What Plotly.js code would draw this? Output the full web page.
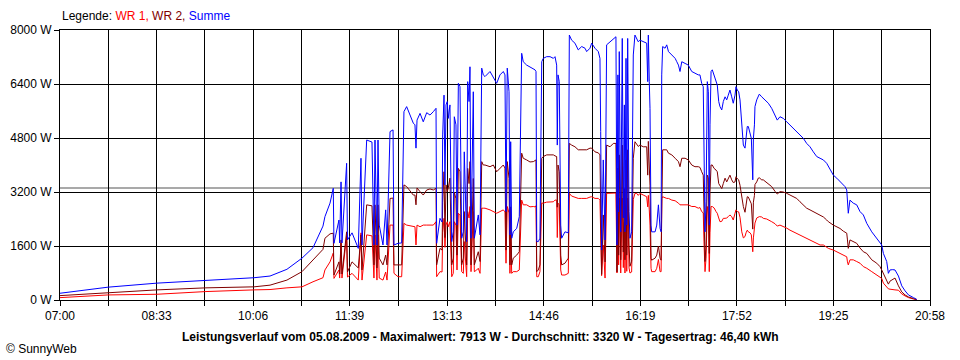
<!DOCTYPE html>
<html>
<head>
<meta charset="utf-8">
<script src="https://cdn.plot.ly/plotly-3.0.1.min.js"></script>
<style>
html,body{margin:0;padding:0;background:#fff;}
#chart{width:960px;height:360px;}
</style>
</head>
<body>
<div id="chart"></div>
<script>
// Minutes after 07:00
const minutes = [0,46.2,93.4,140.6,186.9,202.3,218.6,233.1,243.7,253.3,255.2,260.1,263.2,263.9,268.7,269.4,270.7,271.6,276.1,276.9,281.3,287.3,289.9,290.9,295.4,300.5,302.4,303.4,305.3,306.3,307.5,311.1,313.7,315.0,317.9,320.8,321.7,325.6,329.1,331.3,333.9,340.3,341.9,342.9,343.9,346.8,349.9,353.2,356.4,359.6,362.2,362.8,366.0,368.0,368.6,369.9,370.8,371.8,373.0,374.0,375.6,377.3,378.8,379.8,381.4,382.4,383.7,385.3,386.9,388.5,389.4,391.7,392.7,394.0,394.9,395.9,398.1,399.1,401.4,402.9,404.6,406.2,407.7,409.4,414.2,417.4,420.6,423.8,427.0,428.6,429.6,430.8,432.5,433.4,434.1,435.1,436.6,439.9,442.4,444.7,446.2,449.5,452.7,455.9,457.5,458.5,459.2,460.7,462.3,464.0,465.5,468.8,472.0,475.2,476.8,478.4,479.0,479.7,480.9,482.3,483.2,486.4,489.6,490.6,492.8,496.0,499.2,502.5,505.7,507.3,510.5,512.1,515.3,518.5,520.1,520.8,521.7,523.3,525.0,526.5,529.8,533.0,535.5,536.5,537.4,538.1,538.7,540.1,541.6,542.6,543.6,544.2,545.2,545.9,546.8,548.1,549.0,550.6,552.2,553.8,555.5,557.0,558.6,561.8,565.1,566.1,566.7,567.6,568.3,569.3,569.9,573.2,574.8,576.4,578.0,579.0,579.6,580.5,582.8,584.4,586.1,589.3,592.5,594.1,595.7,597.2,598.9,602.1,605.2,608.5,611.6,614.8,616.4,618.1,619.6,620.3,621.3,622.3,623.5,624.5,625.4,626.1,627.1,628.3,630.0,631.9,633.1,634.5,635.7,637.4,638.9,640.6,642.2,643.7,645.3,647.0,648.5,650.2,651.1,652.4,653.7,655.0,656.7,658.2,659.8,660.8,662.0,663.0,664.7,665.9,667.3,667.9,668.9,669.4,671.1,672.6,673.6,675.9,677.4,680.7,682.3,685.5,688.7,690.9,693.5,696.7,700.0,703.1,706.3,709.6,712.8,716.0,719.2,722.4,725.6,728.9,732.1,735.3,738.5,740.1,744.9,748.2,751.3,754.5,756.1,757.8,758.5,759.3,760.9,764.1,767.4,770.6,773.8,777.1,781.9,786.7,789.8,791.5,793.1,796.3,797.9,799.5,802.1,804.3,807.6,810.8,814.0,817.3,822.1,825.2];

const summe = [200,380,500,580,660,710,910,1240,1550,2190,2470,2870,3310,1680,2370,1690,3500,1690,4050,1780,1990,1530,4200,1630,4740,4680,1630,4740,1630,4740,2220,1630,2670,1630,4990,5040,1630,1680,1690,5580,5730,5240,5190,4500,5330,5530,5280,5550,5480,5580,5680,1680,2420,2310,4890,6070,3410,5780,5880,5380,5780,1730,2020,5430,5190,2220,6420,6320,1830,2020,4390,1730,6470,5880,6910,1830,6170,1830,2220,2520,1930,6870,6670,6620,6770,6570,6420,6670,6770,6670,2620,6870,6170,1930,4690,1830,2020,2120,2470,7310,7060,6960,6910,6870,6820,6770,1730,1730,1830,7060,7160,7210,7210,7160,7210,6960,4590,6670,6470,2220,1830,2020,1990,7850,7700,7610,7410,7510,7460,7360,7460,7610,7460,7360,7160,4990,1480,4150,1780,7560,7650,7750,7800,1630,6670,2610,7360,2020,7750,2430,5780,2020,7160,2220,7750,2620,1830,2020,7260,7850,7750,7650,7700,7650,7610,6470,7850,6470,5680,2220,2020,2020,2220,2820,2120,2020,6670,7510,7460,7560,7360,7260,7160,7060,6960,6770,7060,7010,6960,6770,6720,6670,6670,6420,6320,4390,2020,2910,6470,6170,2220,5190,6770,6820,6670,6470,6370,5880,5730,5630,5880,6020,5930,6070,6220,6020,5830,6070,6320,6220,6170,5930,5090,4590,4500,4890,5140,5140,4950,4790,3560,4790,5190,5730,5930,6070,6100,6020,5980,5880,5830,5680,5480,5330,5430,5380,5280,5190,5090,4990,4890,4790,4640,4540,4390,4250,4200,4150,4050,3950,3700,3610,3510,3410,3360,3260,2960,2570,2960,2870,2820,2620,2520,2270,2020,1830,1680,1630,1380,1140,790,890,900,890,710,420,270,150,70,20];

const wr2 = [130,220,300,360,390,440,590,840,1190,1500,1830,1960,1980,740,1130,770,1780,770,2020,830,1130,950,1930,890,2820,2790,1040,2820,950,2820,1240,1040,1330,1040,3010,3020,1040,1040,1040,3410,3360,3110,3110,2820,3320,3210,3110,3260,3290,3260,3310,1040,1530,1480,2900,3800,1850,3410,3210,3320,3610,1040,1240,3200,3000,1330,3900,3800,1040,1240,2620,1040,3900,3450,4100,1040,3600,1040,1330,1430,1140,4100,4000,4000,3950,4000,3800,3900,4000,3910,1480,4100,3600,1040,2760,1040,1240,1330,1430,4350,4200,4150,4090,4100,4150,4150,840,890,1040,4200,4250,4300,4300,4300,4270,4250,2750,4000,3800,1330,1040,1090,1240,4640,4590,4540,4450,4450,4450,4450,4500,4500,4390,4360,4300,2950,760,2520,1130,4590,4540,4640,4640,830,3910,1330,4300,1190,4590,1420,3300,1190,4150,1330,4450,1630,1000,1150,4200,4690,4600,4550,4590,4540,4540,3700,4700,3800,3400,1240,1180,1240,1330,1600,1240,1180,3650,4450,4450,4450,4350,4300,4200,4150,4100,3950,4200,4200,4150,4000,3950,3950,3930,3800,3700,2670,1140,1630,3700,3620,1380,3210,4000,4000,3900,3850,3800,3450,3400,3300,3450,3610,3500,3600,3700,3560,3480,3500,3650,3600,3560,3400,3010,2770,2600,2900,3060,3050,2950,2850,2100,2900,3100,3420,3500,3610,3620,3560,3560,3480,3440,3360,3220,3140,3210,3200,3160,3110,3060,3010,2910,2820,2720,2670,2620,2570,2520,2460,2370,2320,2220,2170,2120,2040,2020,1980,1780,1530,1780,1730,1680,1540,1430,1380,1190,1090,990,890,790,590,470,560,600,650,420,240,150,90,40,10];

const wr1 = [70,150,170,250,300,310,360,390,540,660,890,1130,1390,640,890,650,1690,650,1900,680,790,590,1990,590,1930,1900,650,1930,590,1930,650,590,830,590,2220,2220,790,690,690,2270,2220,2170,2170,1630,2220,2170,2220,2220,2220,2220,2320,690,840,830,2000,2420,1560,2220,2320,2170,2320,690,790,2320,2220,890,2570,2520,840,790,1730,690,2620,2430,2770,840,2620,840,890,940,790,2720,2720,2720,2670,2620,2570,2620,2670,2610,1090,2770,2580,790,1930,790,840,840,890,2960,2820,2820,2760,2770,2760,2790,690,690,840,2870,2870,2900,2910,2910,2960,2960,1850,2870,2820,890,740,740,790,3160,3080,3050,3010,3010,3010,3010,3050,3060,3010,3010,2960,2000,720,1630,650,3160,3160,3170,3170,800,2820,1040,3020,800,3020,960,2300,800,2820,850,3020,950,800,830,2980,3160,3160,3100,3160,3110,3060,2760,3100,2670,2220,940,840,840,940,1200,840,840,3010,3060,3020,3010,3010,2960,2940,2910,2870,2820,2820,2820,2820,2770,2770,2720,2740,2620,2580,1720,840,1240,2770,2550,840,1990,2770,2770,2730,2620,2570,2430,2320,2330,2420,2420,2430,2470,2520,2470,2370,2570,2670,2620,2610,2450,2020,1840,1880,1990,2070,2020,1990,1930,1430,1840,2070,2280,2430,2470,2470,2460,2420,2400,2380,2320,2260,2190,2220,2180,2130,2070,2020,1980,1930,1880,1830,1780,1730,1680,1630,1630,1570,1530,1480,1430,1380,1330,1300,1280,1130,1040,1190,1190,1140,1090,990,940,840,740,690,640,500,390,330,320,300,300,290,180,120,70,30,10];

const seriesNames = ['WR 1', 'WR 2', 'Summe'];
const seriesColors = ['#ff0000', '#800000', '#0000ff'];
const tickLabels = ['07:00','08:33','10:06','11:39','13:13','14:46','16:19','17:52','19:25','20:58'];
const yTicks = [0, 1600, 3200, 4800, 6400, 8000];
const average = 3320;
const titleText = 'Leistungsverlauf vom 05.08.2009 - Maximalwert: 7913 W - Durchschnitt: 3320 W - Tagesertrag: 46,40 kWh';
const footerText = '© SunnyWeb';

function toMin(s){ const p = s.split(':'); return (+p[0])*60 + (+p[1]) - 420; }
const labelMins = tickLabels.map(toMin);
const tickvals = [], ticktext = [];
labelMins.forEach((m, i) => {
  tickvals.push(m); ticktext.push(tickLabels[i]);
  if (i < labelMins.length - 1) { tickvals.push((m + labelMins[i+1]) / 2); ticktext.push(''); }
});
const xMax = labelMins[labelMins.length - 1];

const seriesData = [wr1, wr2, summe];
const traces = seriesData.map((vals, i) => ({
  x: minutes, y: vals, type: 'scatter', mode: 'lines', name: seriesNames[i],
  line: { color: seriesColors[i], width: 1 }, hoverinfo: 'skip'
}));

const FONT = 'Liberation Sans, Arial, sans-serif';
const legendText = 'Legende: ' + seriesNames.map((n, i) =>
  '<span style="color:' + seriesColors[i] + '">' + n + (i < seriesNames.length - 1 ? ',' : '') + '</span>').join(' ');

const layout = {
  width: 960, height: 360,
  margin: { l: 60, r: 30, t: 30, b: 60, pad: 0 },
  paper_bgcolor: '#ffffff', plot_bgcolor: '#ffffff',
  showlegend: false,
  font: { family: FONT, size: 12, color: '#000' },
  xaxis: {
    range: [0, xMax], tickmode: 'array', tickvals: tickvals, ticktext: ticktext,
    showgrid: true, gridcolor: '#000', gridwidth: 1, zeroline: false,
    showline: true, linecolor: '#000', linewidth: 1, mirror: true,
    ticks: 'outside', ticklen: 5, tickcolor: '#000', tickwidth: 1,
    tickfont: { family: FONT, size: 12, color: '#000' }, fixedrange: true
  },
  yaxis: {
    range: [0, yTicks[yTicks.length - 1]], tickmode: 'array', tickvals: yTicks,
    ticktext: yTicks.map(v => v + ' W'),
    showgrid: true, gridcolor: '#000', gridwidth: 1, zeroline: false,
    showline: true, linecolor: '#000', linewidth: 1, mirror: true,
    ticks: 'outside', ticklen: 5, tickcolor: '#000', tickwidth: 1,
    tickfont: { family: FONT, size: 12, color: '#000' }, fixedrange: true
  },
  shapes: [{
    type: 'line', xref: 'paper', x0: 0, x1: 1, yref: 'y', y0: average, y1: average,
    line: { color: '#8c8c8c', width: 1.5 }, layer: 'below'
  }],
  annotations: [
    { text: legendText, xref: 'paper', yref: 'paper', x: 0, y: 1.052, xanchor: 'left', yanchor: 'middle',
      showarrow: false, font: { family: FONT, size: 12, color: '#000' } },
    { text: '<b>' + titleText + '</b>', xref: 'paper', yref: 'paper', x: 0.483, y: -0.137,
      xanchor: 'center', yanchor: 'middle', showarrow: false, font: { family: FONT, size: 12, color: '#000' } },
    { text: footerText, xref: 'paper', yref: 'paper', x: -0.064, y: -0.181, xanchor: 'left', yanchor: 'middle',
      showarrow: false, font: { family: FONT, size: 12, color: '#000' } }
  ]
};

Plotly.newPlot('chart', traces, layout, { displayModeBar: false, staticPlot: true });
</script>
</body>
</html>
